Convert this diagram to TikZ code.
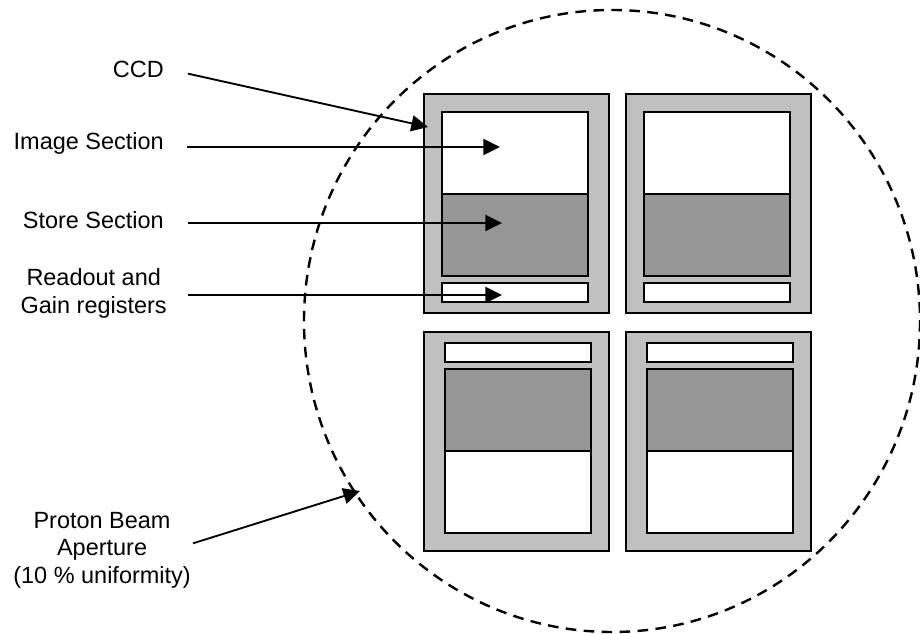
\documentclass[tikz,border=0pt]{standalone}
\usepackage{fontspec}
\setmainfont{Liberation Sans}
\usetikzlibrary{arrows.meta}
\definecolor{frame}{HTML}{C0C0C0}
\definecolor{store}{HTML}{969696}
\begin{document}
\begin{tikzpicture}[x=0.75pt, y=-0.75pt,
   every node/.style={font=\fontsize{17.6}{20.6}\selectfont, inner sep=0pt},
   chipframe/.style={draw, line width=1.5pt, fill=frame},
   section/.style={draw, line width=1.5pt, fill=white},
   storesection/.style={section, fill=store},
   pointer/.style={-{Triangle[length=12.5pt,width=12pt]}, line width=1.4pt},
   aperture/.style={draw, line width=1.8pt, dash pattern=on 8pt off 5.5pt}]

\useasboundingbox (0,0) rectangle (920,634);

% beam aperture
\draw[aperture] (612,321) ellipse [x radius=308, y radius=311];

% four ccd chips, the lower two turned round
\foreach \cx/\cy/\r in {516.5/203.5/0, 718/203.5/0, 516.5/441.5/180, 718/441.5/180}{
  \begin{scope}[shift={(\cx,\cy)}, rotate=\r]
    \draw[chipframe] (-92.5,-109.5) rectangle (92.5,109.5);
    \draw[section] (-74.5,-91.5) rectangle (71.5,-9.5);
    \draw[storesection] (-74.5,-9.5) rectangle (71.5,72.5);
    \draw[section] (-74.5,79.5) rectangle (71.5,98.5);
  \end{scope}
}

% labels
\node[anchor=east] (ccd) at (164,69) {CCD};
\node[anchor=east] (image) at (164,143) {Image Section};
\node[anchor=east] (store) at (164,220) {Store Section};
\node[anchor=east, align=center] (readout) at (167,293.5) {Readout and\\Gain registers};
\node[anchor=east, align=center] (proton) at (191,550) {Proton Beam\\Aperture\\(10 \% uniformity)};

\coordinate (ccdtip) at (428,127);
\coordinate (imagetip) at (500,147);
\coordinate (storetip) at (502,223);
\coordinate (readouttip) at (502,295);
\coordinate (protontip) at (360,491);

\draw[pointer] ([xshift=18pt,yshift=-3.5pt]ccd.east) -- (ccdtip);
\draw[pointer] ([xshift=17.25pt,yshift=-3pt]image.east) -- (imagetip);
\draw[pointer] ([xshift=18pt,yshift=-2.25pt]store.east) -- (storetip);
\draw[pointer] ([xshift=15.75pt,yshift=-1.1pt]readout.east) -- (readouttip);
\draw[pointer] ([xshift=1.5pt,yshift=5pt]proton.east) -- (protontip);

\end{tikzpicture}
\end{document}
